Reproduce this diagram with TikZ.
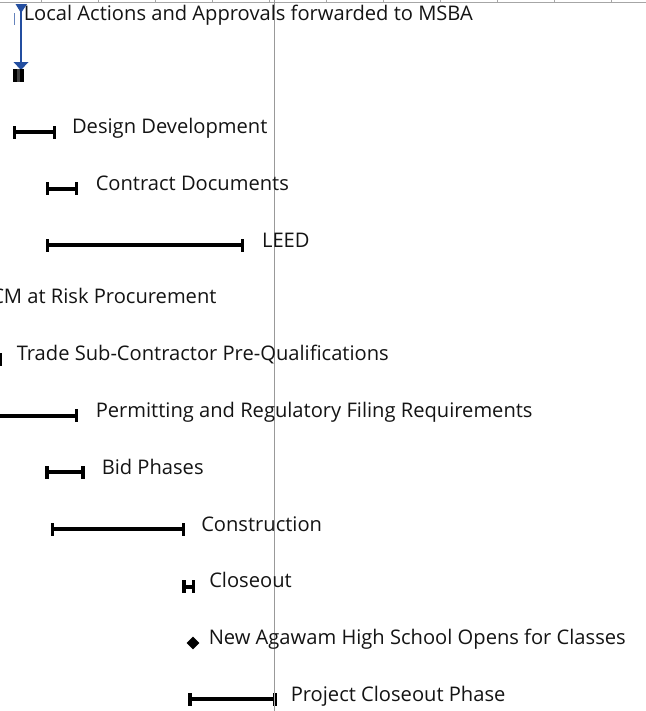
\documentclass[tikz,border=0pt]{standalone}
\usepackage{fontspec}
\setmainfont{Open Sans}
\definecolor{msblue}{RGB}{35,78,160}
\newcommand\ganttbar[3]{%
  \fill[black] (#1,#3-2) rectangle (#2,#3+2);
  \fill[black] (#1,#3-6.5) rectangle (#1+3.5,#3+6.5);
  \fill[black] (#2-3.5,#3-6.5) rectangle (#2,#3+6.5);}
\begin{document}
\begin{tikzpicture}[x=0.75pt,y=-0.75pt,
  lbl/.style={anchor=base west, inner sep=0pt, font=\fontsize{15.1pt}{18pt}\selectfont, text=black!92}]
\useasboundingbox (0,0) rectangle (646,711);
\clip (0,0) rectangle (646,711);
\fill[white] (0,0) rectangle (646,711);
% timescale
\draw[gray!70, line width=0.75pt] (0,2.3) -- (646,2.3);
\foreach \k in {0,...,10} {\draw[gray!70, line width=0.75pt] (41.7+56.98*\k,0) -- (41.7+56.98*\k,2.3);}
% status line
\draw[gray!80, line width=0.75pt] (274.3,0) -- (274.3,711);
% row 0: blue milestone
\draw[msblue!70, line width=0.75pt] (14.5,13) -- (14.5,25);
\draw[msblue, line width=0.9pt] (21,4) -- (21,63);
\fill[msblue] (15.5,4) -- (27,4) -- (21,13) -- cycle;
\fill[msblue] (13.5,62) -- (28.5,62) -- (21,70) -- cycle;
\node[lbl] (t0) at (23.5,20.5) {Local Actions and Approvals forwarded to MSBA};
% row 1
\fill[gray!50!black] (13,68.5) rectangle (24,81.5);
\fill[black] (13,68.5) rectangle (16.7,81.5);
\fill[black] (19.5,68.5) rectangle (24,81.5);
% row 2
\ganttbar{12.7}{56}{132}
\node[lbl] (t2) at (71.8,133.4) {Design Development};
% row 3
\ganttbar{45.7}{78.3}{188.5}
\node[lbl] (t3) at (95.5,190.2) {Contract Documents};
% row 4
\ganttbar{45.7}{244.3}{245.3}
\node[lbl] (t4) at (261.8,247) {LEED};
% row 5
\node[lbl] (t5) at (-9,303.8) {CM at Risk Procurement};
% row 6
\ganttbar{-40}{2}{359}
\node[lbl] (t6) at (16.5,360.6) {Trade Sub-Contractor Pre-Qualifications};
% row 7
\ganttbar{-60}{78.3}{415.5}
\node[lbl] (t7) at (95.5,417.4) {Permitting and Regulatory Filing Requirements};
% row 8
\ganttbar{45}{84.5}{472.3}
\node[lbl] (t8) at (101.5,474.2) {Bid Phases};
% row 9
\ganttbar{50.5}{185}{529.2}
\node[lbl] (t9) at (201,531) {Construction};
% row 10
\ganttbar{182}{195}{586.5}
\node[lbl] (t10) at (209,587.8) {Closeout};
% row 11
\fill[black] (193,636.7) -- (199.3,643) -- (193,649.3) -- (186.7,643) -- cycle;
\node[lbl] (t11) at (208.5,644.6) {New Agawam High School Opens for Classes};
% row 12
\ganttbar{188.3}{276.7}{699.3}
\draw[gray!60, line width=0.6pt] (274.3,692.8) -- (274.3,705.8);
\node[lbl] (t12) at (290.5,701.4) {Project Closeout Phase};
\end{tikzpicture}
\end{document}
